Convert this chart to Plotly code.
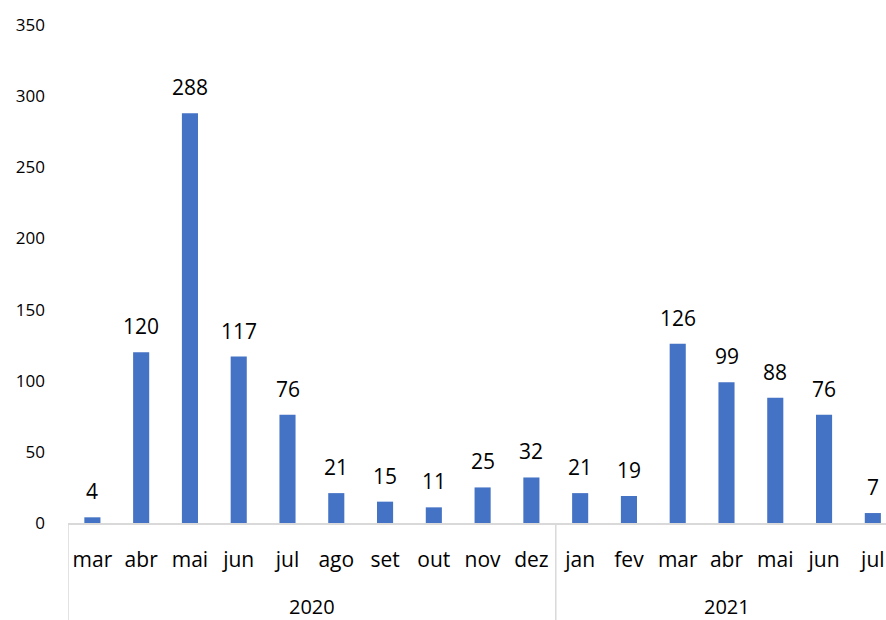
import plotly.graph_objects as go

years = ["2020", "2021"]
year_counts = [10, 7]
months = ["mar", "abr", "mai", "jun", "jul", "ago", "set", "out", "nov", "dez",
          "jan", "fev", "mar", "abr", "mai", "jun", "jul"]
values = [4, 120, 288, 117, 76, 21, 15, 11, 25, 32, 21, 19, 126, 99, 88, 76, 7]

xs = list(range(len(months)))
FONT = "Open Sans"

fig = go.Figure(go.Bar(
    x=xs, y=values,
    marker=dict(color="#4472C4", line=dict(width=0)),
    width=0.33,
    cliponaxis=False,
))

# data labels
for x, v in zip(xs, values):
    fig.add_annotation(x=x, y=v, text=str(v), showarrow=False, xref="x", yref="y",
                       yanchor="bottom", yshift=10,
                       font=dict(size=21, color="#000000", family=FONT))

# group dividers and year labels
start = 0
axis_px = 498
for yr, cnt in zip(years, year_counts):
    fig.add_shape(type="line", xref="x", yref="paper", x0=start - 0.5, x1=start - 0.5,
                  y0=0, y1=-97 / axis_px, line=dict(color="#D9D9D9", width=1.5))
    fig.add_annotation(x=start + (cnt - 1) / 2, y=-83 / axis_px, xref="x", yref="paper",
                       text=yr, showarrow=False, yanchor="middle",
                       font=dict(size=20, color="#000000", family=FONT))
    start += cnt
fig.add_shape(type="line", xref="x", yref="paper", x0=start - 0.5, x1=start - 0.5,
              y0=0, y1=-97 / axis_px, line=dict(color="#D9D9D9", width=1.5))

fig.update_layout(
    width=886, height=620,
    margin=dict(l=68, r=0, t=25, b=97, autoexpand=False),
    plot_bgcolor="white", paper_bgcolor="white",
    showlegend=False,
    font=dict(family=FONT, color="#000000"),
)
fig.update_xaxes(
    range=[-0.5, 16.27], tickvals=xs, ticktext=months,
    showline=True, linecolor="#D9D9D9", linewidth=1.5,
    tickfont=dict(size=21, color="#000000", family=FONT),
    ticks="", showgrid=False, zeroline=False, ticklabelstandoff=17,
    automargin=False,
)
fig.update_yaxes(
    range=[0, 350], dtick=50, showgrid=False, zeroline=False, showline=False,
    tickfont=dict(size=17, color="#000000", family=FONT), ticks="", ticklabelstandoff=22,
    automargin=False,
)
fig.write_html("out.html", config={"displayModeBar": False},
               post_script="document.body.style.margin='0';document.body.style.overflow='hidden';")
